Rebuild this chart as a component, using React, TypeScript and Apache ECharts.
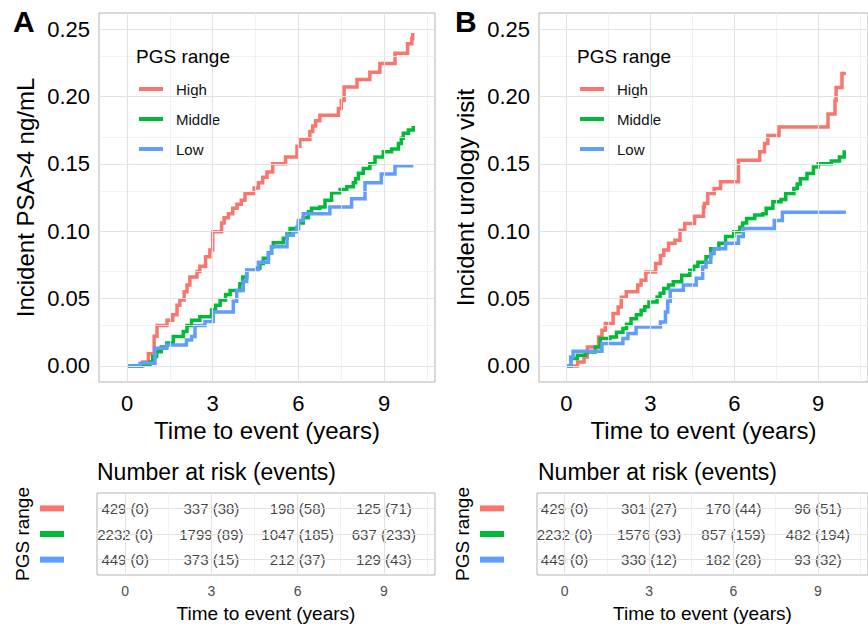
import React, { useEffect, useRef } from 'react';
import * as echarts from 'echarts';

const GROUPS = ['High', 'Middle', 'Low'];
const COLORS = ['#F8766D', '#00BA38', '#619CFF'];

const X_MIN = -0.98;
const X_MAX = 10.78;
const Y_MIN = -0.0119;
const Y_MAX = 0.2619;
const X_TICKS = [0, 3, 6, 9];
const X_MINOR = [1.5, 4.5, 7.5, 10.5];
const Y_TICKS = [0, 0.05, 0.1, 0.15, 0.2, 0.25];
const Y_MINOR = [0.025, 0.075, 0.125, 0.175, 0.225];
const RISK_TIMES = [0, 3, 6, 9];
const RISK_ROWS = [1, 2, 3];

// Panel A: Incident PSA>4 ng/mL  [time, cumulative incidence]
const psaHigh: [number, number][] = [
  [0, 0], [0.55, 0.003], [0.75, 0.009], [0.95, 0.022], [1.05, 0.03], [1.4, 0.034], [1.6, 0.038],
  [1.75, 0.045], [1.85, 0.049], [2.0, 0.055], [2.1, 0.06], [2.2, 0.066], [2.45, 0.07], [2.55, 0.074],
  [2.75, 0.081], [2.9, 0.086], [3.0, 0.0996], [3.31, 0.106], [3.4, 0.11], [3.55, 0.113], [3.7, 0.117],
  [3.85, 0.12], [4.0, 0.123], [4.13, 0.128], [4.45, 0.132], [4.6, 0.136], [4.75, 0.14], [4.9, 0.144],
  [5.1, 0.15], [5.55, 0.155], [5.95, 0.163], [6.05, 0.168], [6.4, 0.174], [6.5, 0.178], [6.6, 0.182],
  [6.75, 0.186], [7.4, 0.191], [7.5, 0.197], [7.6, 0.207], [8.05, 0.2126], [8.5, 0.218], [8.85, 0.2245],
  [9.38, 0.232], [9.82, 0.239], [9.97, 0.243], [10.0, 0.247],
];
const psaMiddle: [number, number][] = [
  [0, 0], [0.5, 0.001], [0.8, 0.003], [0.9, 0.007], [1.04, 0.0106], [1.2, 0.014], [1.39, 0.017],
  [1.62, 0.0218], [1.97, 0.0255], [2.1, 0.03], [2.26, 0.034], [2.55, 0.0366], [2.96, 0.0415], [3.1, 0.045],
  [3.26, 0.049], [3.45, 0.053], [3.61, 0.056], [3.95, 0.061], [4.05, 0.066], [4.19, 0.071], [4.54, 0.0725],
  [4.65, 0.076], [4.77, 0.08], [4.95, 0.084], [5.06, 0.0885], [5.12, 0.0915], [5.47, 0.0947], [5.6, 0.098],
  [5.71, 0.102], [6.0, 0.106], [6.17, 0.11], [6.35, 0.1145], [6.46, 0.117], [6.75, 0.118], [6.93, 0.123],
  [7.16, 0.1286], [7.46, 0.131], [7.69, 0.133], [7.92, 0.136], [8.0, 0.139], [8.1, 0.143], [8.27, 0.1466],
  [8.5, 0.15], [8.68, 0.155], [8.97, 0.159], [9.26, 0.161], [9.5, 0.165], [9.6, 0.169], [9.67, 0.1726],
  [9.85, 0.175], [10.02, 0.178],
];
const psaLow: [number, number][] = [
  [0, 0], [0.46, 0.002], [0.98, 0.0131], [1.39, 0.0156], [2.08, 0.0193], [2.26, 0.0218], [2.38, 0.03],
  [2.73, 0.033], [3.02, 0.04], [3.72, 0.048], [3.84, 0.056], [4.07, 0.0626], [4.19, 0.071], [4.6, 0.077],
  [4.95, 0.0836], [5.06, 0.0885], [5.6, 0.097], [5.82, 0.0996], [5.94, 0.103], [6.0, 0.108], [6.17, 0.113],
  [7.1, 0.118], [7.86, 0.124], [8.33, 0.136], [8.9, 0.1424], [9.38, 0.1486], [10.02, 0.1486],
];

// Panel B: Incident urology visit
const uroHigh: [number, number][] = [
  [0, 0], [0.4, 0.003], [0.63, 0.0067], [0.75, 0.014], [1.15, 0.0215], [1.27, 0.0265], [1.39, 0.0315],
  [1.67, 0.039], [1.85, 0.0438], [1.96, 0.051], [2.14, 0.055], [2.55, 0.06], [2.67, 0.0636], [2.84, 0.0698],
  [3.19, 0.076], [3.36, 0.082], [3.48, 0.086], [3.65, 0.091], [3.88, 0.0933], [4.06, 0.1007], [4.23, 0.1057],
  [4.58, 0.111], [4.9, 0.118], [4.93, 0.1206], [5.05, 0.128], [5.28, 0.1317], [5.51, 0.1366], [6.15, 0.1527],
  [6.91, 0.159], [7.08, 0.165], [7.2, 0.171], [7.6, 0.1774], [9.35, 0.187], [9.6, 0.197], [9.64, 0.2067],
  [9.85, 0.217], [9.99, 0.217],
];
const uroMiddle: [number, number][] = [
  [0, 0], [0.16, 0.0055], [0.39, 0.008], [0.68, 0.0104], [1.03, 0.014], [1.21, 0.0203], [1.56, 0.0215],
  [1.79, 0.025], [2.02, 0.0278], [2.15, 0.031], [2.31, 0.035], [2.5, 0.038], [2.67, 0.0413], [2.8, 0.044],
  [2.95, 0.0475], [3.24, 0.0512], [3.35, 0.054], [3.48, 0.0574], [3.65, 0.06], [3.82, 0.0624], [4.12, 0.0673],
  [4.41, 0.071], [4.55, 0.074], [4.7, 0.077], [4.99, 0.081], [5.16, 0.087], [5.45, 0.091], [5.69, 0.096],
  [5.98, 0.0995], [6.2, 0.103], [6.3, 0.106], [6.44, 0.1094], [6.73, 0.112], [7.02, 0.113], [7.14, 0.117],
  [7.38, 0.1218], [7.67, 0.1235], [7.84, 0.128], [8.13, 0.1317], [8.25, 0.135], [8.36, 0.139], [8.6, 0.1428],
  [8.83, 0.1477], [9.0, 0.15], [9.47, 0.152], [9.76, 0.155], [9.93, 0.16],
];
const uroLow: [number, number][] = [
  [0, 0], [0.16, 0.0067], [0.24, 0.011], [1.27, 0.0166], [2.02, 0.0203], [2.2, 0.024], [2.49, 0.029],
  [3.36, 0.0327], [3.54, 0.04], [3.62, 0.048], [3.71, 0.0562], [4.18, 0.06], [4.64, 0.065], [4.87, 0.0735],
  [4.99, 0.077], [5.16, 0.0835], [5.28, 0.087], [5.69, 0.091], [6.15, 0.096], [6.32, 0.102], [7.43, 0.108],
  [7.72, 0.114], [9.99, 0.114],
];

// Risk tables: number at risk (events) at RISK_TIMES
const psaRiskHigh = ['429 (0)', '337 (38)', '198 (58)', '125 (71)'];
const psaRiskMiddle = ['2232 (0)', '1799 (89)', '1047 (185)', '637 (233)'];
const psaRiskLow = ['449 (0)', '373 (15)', '212 (37)', '129 (43)'];
const uroRiskHigh = ['429 (0)', '301 (27)', '170 (44)', '96 (51)'];
const uroRiskMiddle = ['2232 (0)', '1576 (93)', '857 (159)', '482 (194)'];
const uroRiskLow = ['449 (0)', '330 (12)', '182 (28)', '93 (32)'];

const FONT = 'Liberation Sans, Arial, Helvetica, sans-serif';
const BORDER = '#b3b3b3';
const GRID_MAJOR = '#e2e2e2';
const GRID_MINOR = '#eeeeee';

function gridLineSeries(idx: number, xMajor: number[], xMinor: number[], yMajor: number[], yMinor: number[]) {
  const data: any[] = [];
  xMinor.forEach((v) => data.push({ xAxis: v, lineStyle: { color: GRID_MINOR, width: 0.8, type: 'solid' } }));
  yMinor.forEach((v) => data.push({ yAxis: v, lineStyle: { color: GRID_MINOR, width: 0.8, type: 'solid' } }));
  xMajor.forEach((v) => data.push({ xAxis: v, lineStyle: { color: GRID_MAJOR, width: 1.1, type: 'solid' } }));
  yMajor.forEach((v) => data.push({ yAxis: v, lineStyle: { color: GRID_MAJOR, width: 1.1, type: 'solid' } }));
  return {
    type: 'line',
    xAxisIndex: idx,
    yAxisIndex: idx,
    data: [],
    silent: true,
    z: 1,
    markLine: {
      silent: true,
      symbol: ['none', 'none'],
      label: { show: false },
      animation: false,
      data,
    },
  };
}

function curveSeries(idx: number, name: string, color: string, data: [number, number][]) {
  return {
    type: 'line',
    name,
    xAxisIndex: idx,
    yAxisIndex: idx,
    data,
    step: 'end',
    symbol: 'none',
    showSymbol: false,
    silent: true,
    z: 3,
    itemStyle: { color },
    lineStyle: { color, width: 3.5, join: 'miter', cap: 'butt' },
  };
}

function riskSeries(idx: number, rows: string[][]) {
  const data: any[] = [];
  rows.forEach((row, r) => {
    row.forEach((txt, c) => {
      data.push({ name: txt, value: [RISK_TIMES[c], RISK_ROWS[r]] });
    });
  });
  return {
    type: 'scatter',
    xAxisIndex: idx,
    yAxisIndex: idx,
    symbolSize: 0,
    silent: true,
    z: 3,
    data,
    label: {
      show: true,
      position: 'inside',
      formatter: '{b}',
      fontSize: 15,
      color: '#111',
      fontFamily: FONT,
      textBorderWidth: 0,
      textBorderColor: 'transparent',
    },
  };
}

function mainX(idx: number) {
  return {
    type: 'value',
    gridIndex: idx,
    min: X_MIN,
    max: X_MAX,
    axisLine: { show: false },
    axisTick: { show: true, customValues: X_TICKS, length: 4, lineStyle: { color: BORDER } },
    axisLabel: { customValues: X_TICKS, fontSize: 22, color: '#000', margin: 10, fontFamily: FONT },
    splitLine: { show: false },
    name: 'Time to event (years)',
    nameLocation: 'middle',
    nameGap: 35,
    nameTextStyle: { fontSize: 24, color: '#000', fontFamily: FONT },
  };
}

function mainY(idx: number, title: string) {
  return {
    type: 'value',
    gridIndex: idx,
    min: Y_MIN,
    max: Y_MAX,
    axisLine: { show: false },
    axisTick: { show: true, customValues: Y_TICKS, length: 4, lineStyle: { color: BORDER } },
    axisLabel: {
      customValues: Y_TICKS,
      fontSize: 22,
      color: '#000',
      margin: 9,
      fontFamily: FONT,
      formatter: (v: number) => v.toFixed(2),
    },
    splitLine: { show: false },
    name: title,
    nameLocation: 'middle',
    nameGap: 62,
    nameTextStyle: { fontSize: 24, color: '#000', fontFamily: FONT },
  };
}

function tableX(idx: number) {
  return {
    type: 'value',
    gridIndex: idx,
    min: X_MIN,
    max: X_MAX,
    axisLine: { show: false },
    axisTick: { show: false, customValues: RISK_TIMES },
    axisLabel: { customValues: RISK_TIMES, fontSize: 14, color: '#4d4d4d', margin: 9, fontFamily: FONT },
    splitLine: { show: false },
    name: 'Time to event (years)',
    nameLocation: 'middle',
    nameGap: 29,
    nameTextStyle: { fontSize: 19, color: '#000', fontFamily: FONT },
  };
}

function tableY(idx: number) {
  const rich: any = {};
  COLORS.forEach((c, i) => {
    rich['c' + (i + 1)] = { backgroundColor: c, width: 24, height: 6 };
  });
  return {
    type: 'value',
    gridIndex: idx,
    inverse: true,
    min: 0.4,
    max: 3.6,
    axisLine: { show: false },
    axisTick: { show: false, customValues: RISK_ROWS },
    axisLabel: {
      customValues: RISK_ROWS,
      margin: 33,
      formatter: (v: number) => '{c' + Math.round(v) + '|}',
      rich,
    },
    splitLine: { show: false },
    name: 'PGS range',
    nameLocation: 'middle',
    nameGap: 65,
    nameTextStyle: { fontSize: 19, color: '#000', fontFamily: FONT },
  };
}

function legendAt(left: number) {
  return {
    left,
    top: 38,
    orient: 'vertical',
    data: GROUPS,
    icon: 'rect',
    itemWidth: 24,
    itemHeight: 4,
    itemGap: 15,
    selectedMode: false,
    backgroundColor: '#ffffff',
    padding: [43.5, 20, 18, 13],
    itemStyle: { borderWidth: 0 },
    textStyle: { fontSize: 15, color: '#111', fontFamily: FONT, padding: [0, 0, 0, 8] },
    z: 5,
  };
}

export default function App() {
  const ref = useRef<HTMLDivElement>(null);
  useEffect(() => {
    document.body.style.margin = '0';
    if (!ref.current) return;
    const chart = echarts.init(ref.current, undefined, { renderer: 'svg' });
    const gridBase = { show: true, borderColor: BORDER, borderWidth: 1, backgroundColor: 'transparent' };
    const option: any = {
      animation: false,
      textStyle: { fontFamily: FONT },
      title: [
        { text: 'A', left: 13, top: 6, padding: 0, textStyle: { fontSize: 30, fontWeight: 'bold', color: '#000', fontFamily: FONT } },
        { text: 'B', left: 455, top: 6, padding: 0, textStyle: { fontSize: 30, fontWeight: 'bold', color: '#000', fontFamily: FONT } },
        { text: 'PGS range', left: 136, top: 47, padding: 0, z: 7, textStyle: { fontSize: 19, fontWeight: 'normal', color: '#000', fontFamily: FONT } },
        { text: 'PGS range', left: 577, top: 47, padding: 0, z: 7, textStyle: { fontSize: 19, fontWeight: 'normal', color: '#000', fontFamily: FONT } },
        { text: 'Number at risk (events)', left: 97, top: 460, padding: 0, textStyle: { fontSize: 23, fontWeight: 'normal', color: '#000', fontFamily: FONT } },
        { text: 'Number at risk (events)', left: 538, top: 460, padding: 0, textStyle: { fontSize: 23, fontWeight: 'normal', color: '#000', fontFamily: FONT } },
      ],
      legend: [legendAt(126), legendAt(567)],
      grid: [
        { ...gridBase, left: 99, top: 13, width: 336, height: 369 },
        { ...gridBase, left: 539, top: 13, width: 337, height: 369 },
        { ...gridBase, left: 97, top: 493, width: 338, height: 82 },
        { ...gridBase, left: 537, top: 493, width: 338, height: 82 },
      ],
      xAxis: [mainX(0), mainX(1), tableX(2), tableX(3)],
      yAxis: [
        mainY(0, 'Incident PSA>4 ng/mL'),
        mainY(1, 'Incident urology visit'),
        tableY(2),
        tableY(3),
      ],
      series: [
        gridLineSeries(0, X_TICKS, X_MINOR, Y_TICKS, Y_MINOR),
        gridLineSeries(1, X_TICKS, X_MINOR, Y_TICKS, Y_MINOR),
        gridLineSeries(2, X_TICKS, X_MINOR, RISK_ROWS, []),
        gridLineSeries(3, X_TICKS, X_MINOR, RISK_ROWS, []),
        curveSeries(0, GROUPS[0], COLORS[0], psaHigh),
        curveSeries(0, GROUPS[1], COLORS[1], psaMiddle),
        curveSeries(0, GROUPS[2], COLORS[2], psaLow),
        curveSeries(1, GROUPS[0], COLORS[0], uroHigh),
        curveSeries(1, GROUPS[1], COLORS[1], uroMiddle),
        curveSeries(1, GROUPS[2], COLORS[2], uroLow),
        riskSeries(2, [psaRiskHigh, psaRiskMiddle, psaRiskLow]),
        riskSeries(3, [uroRiskHigh, uroRiskMiddle, uroRiskLow]),
      ],
    };
    chart.setOption(option);
    return () => chart.dispose();
  }, []);
  return <div ref={ref} style={{ width: 868, height: 624 }} />;
}
